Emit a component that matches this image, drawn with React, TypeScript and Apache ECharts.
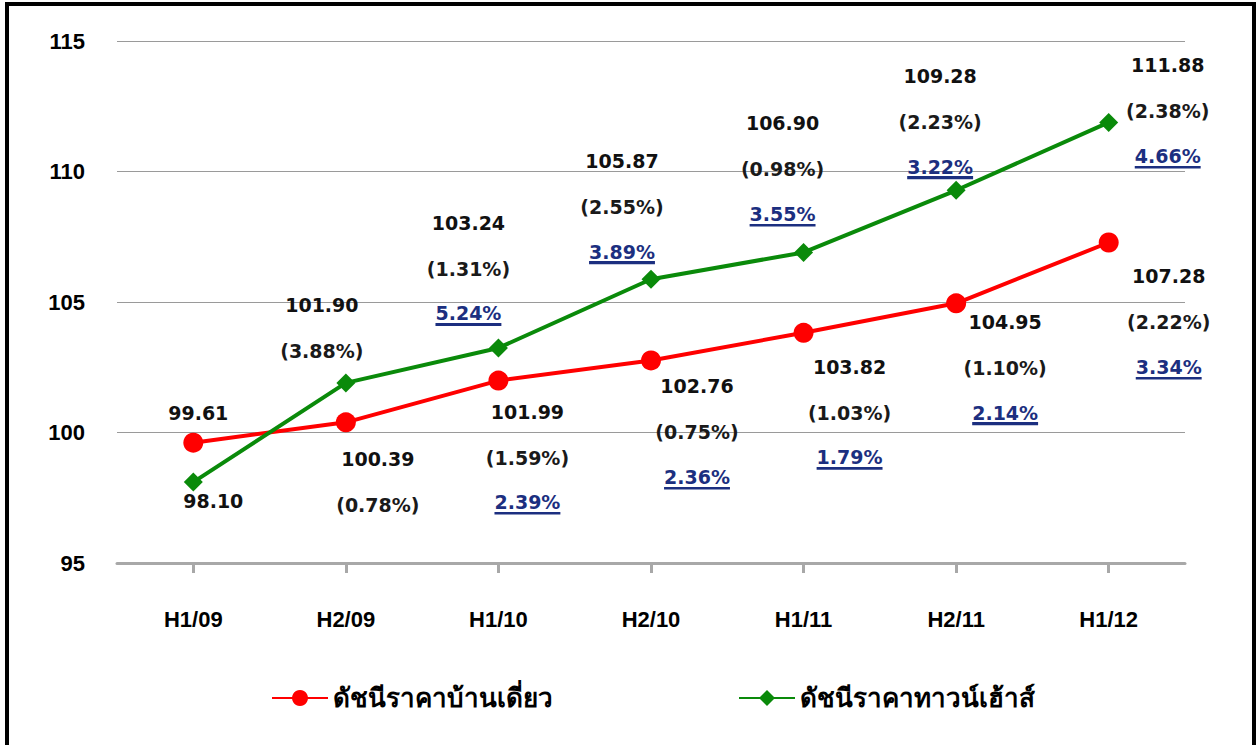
import React, { useEffect, useRef } from "react";
import * as echarts from "echarts";

const categories = ["H1/09", "H2/09", "H1/10", "H2/10", "H1/11", "H2/11", "H1/12"];
const yTicks = { min: 95, max: 115, interval: 5 };

const singleName = "ดัชนีราคาบ้านเดี่ยว";
const townName = "ดัชนีราคาทาวน์เฮ้าส์";

const singleValues = [99.61, 100.39, 101.99, 102.76, 103.82, 104.95, 107.28];
const singleHalfChange = [null, 0.78, 1.59, 0.75, 1.03, 1.1, 2.22];
const singleYoYChange = [null, null, 2.39, 2.36, 1.79, 2.14, 3.34];

const townValues = [98.1, 101.9, 103.24, 105.87, 106.9, 109.28, 111.88];
const townHalfChange = [null, 3.88, 1.31, 2.55, 0.98, 2.23, 2.38];
const townYoYChange = [null, null, 5.24, 3.89, 3.55, 3.22, 4.66];

// label block offsets (center of label block relative to point), in px
const singleLabelOffsets = [[5, -30], [32, 60], [29, 77], [46, 72], [46, 80], [49, 65], [60, 80]];
const townLabelOffsets = [[20, 19], [-24, -55], [-30, -79], [-29, -72], [-21, -83], [-16, -68], [59, -11]];

const FONT = "'Liberation Sans', Arial, sans-serif";
const LABEL_FONT = "'DejaVu Sans', 'Liberation Sans', sans-serif";
const NAVY = "#1c2f80";

function buildLabelText(v: number, half: number | null, yoy: number | null): string {
  const parts = [`{v|${v.toFixed(2)}}`];
  if (half !== null) parts.push(`{p|(${half.toFixed(2)}%)}`);
  if (yoy !== null) parts.push(`{u|${yoy.toFixed(2)}%}`);
  return parts.join("\n");
}

function buildData(values: number[], half: (number | null)[], yoy: (number | null)[], offsets: number[][]) {
  return values.map((v, i) => ({
    value: v,
    label: {
      show: true,
      position: "inside",
      align: "center",
      verticalAlign: "middle",
      offset: offsets[i],
      formatter: buildLabelText(v, half[i], yoy[i]),
    },
  }));
}

export default function App() {
  const ref = useRef<HTMLDivElement>(null);
  useEffect(() => {
    document.body.style.margin = "0";
    if (!ref.current) return;
    const chart = echarts.init(ref.current, undefined, { renderer: "svg" });
    const underline = new echarts.graphic.LinearGradient(0, 0, 0, 1, [
      { offset: 0, color: "rgba(0,0,0,0)" },
      { offset: 0.87, color: "rgba(0,0,0,0)" },
      { offset: 0.87, color: NAVY },
      { offset: 1, color: NAVY },
    ]);
    const rich = {
      v: { fontFamily: LABEL_FONT, fontSize: 19, fontWeight: "bold", color: "#111", lineHeight: 46 },
      p: { fontFamily: LABEL_FONT, fontSize: 19, fontWeight: "bold", color: "#1a1a1a", lineHeight: 46 },
      u: {
        fontFamily: LABEL_FONT,
        fontSize: 19,
        fontWeight: "bold",
        color: NAVY,
        lineHeight: 46,
        padding: [0, 0, 3, 0],
        backgroundColor: underline,
      },
    };
    const legendText = { fontFamily: FONT, fontSize: 26, fontWeight: "bold", color: "#000" };
    chart.setOption({
      animation: false,
      backgroundColor: "#ffffff",
      graphic: [
        {
          type: "rect",
          shape: { x: 7, y: 4, width: 1247, height: 780 },
          style: { fill: "none", stroke: "#000", lineWidth: 4 },
          silent: true,
        },
      ],
      grid: { left: 117, right: 74, top: 41, bottom: 182 },
      legend: [
        {
          data: [singleName],
          left: 266,
          top: 680,
          itemWidth: 56,
          itemHeight: 20,
          itemGap: 4,
          textStyle: legendText,
        },
        {
          data: [townName],
          left: 733,
          top: 680,
          itemWidth: 56,
          itemHeight: 20,
          itemGap: 4,
          textStyle: legendText,
        },
      ],
      xAxis: {
        type: "category",
        data: categories,
        boundaryGap: true,
        axisLine: { show: true, lineStyle: { color: "#a8a8a8", width: 3 } },
        axisTick: { show: true, alignWithLabel: true, length: 10, lineStyle: { color: "#a8a8a8", width: 3 } },
        axisLabel: { margin: 45, fontFamily: FONT, fontSize: 22, fontWeight: "bold", color: "#000" },
        splitLine: { show: false },
      },
      yAxis: {
        type: "value",
        min: yTicks.min,
        max: yTicks.max,
        interval: yTicks.interval,
        axisLine: { show: false },
        axisTick: { show: false },
        axisLabel: { margin: 32, fontFamily: FONT, fontSize: 22, fontWeight: "bold", color: "#000" },
        splitLine: { lineStyle: { color: "#9a9a9a", width: 1 } },
      },
      series: [
        {
          name: singleName,
          type: "line",
          data: buildData(singleValues, singleHalfChange, singleYoYChange, singleLabelOffsets),
          symbol: "circle",
          symbolSize: 20,
          itemStyle: { color: "#ff0000" },
          lineStyle: { color: "#ff0000", width: 4 },
          label: { rich },
          z: 3,
        },
        {
          name: townName,
          type: "line",
          data: buildData(townValues, townHalfChange, townYoYChange, townLabelOffsets),
          symbol: "diamond",
          symbolSize: 19,
          itemStyle: { color: "#0a8a0a" },
          lineStyle: { color: "#0a8a0a", width: 4 },
          label: { rich },
          z: 4,
        },
      ],
    });
    return () => chart.dispose();
  }, []);
  return <div ref={ref} style={{ width: 1259, height: 745 }} />;
}
